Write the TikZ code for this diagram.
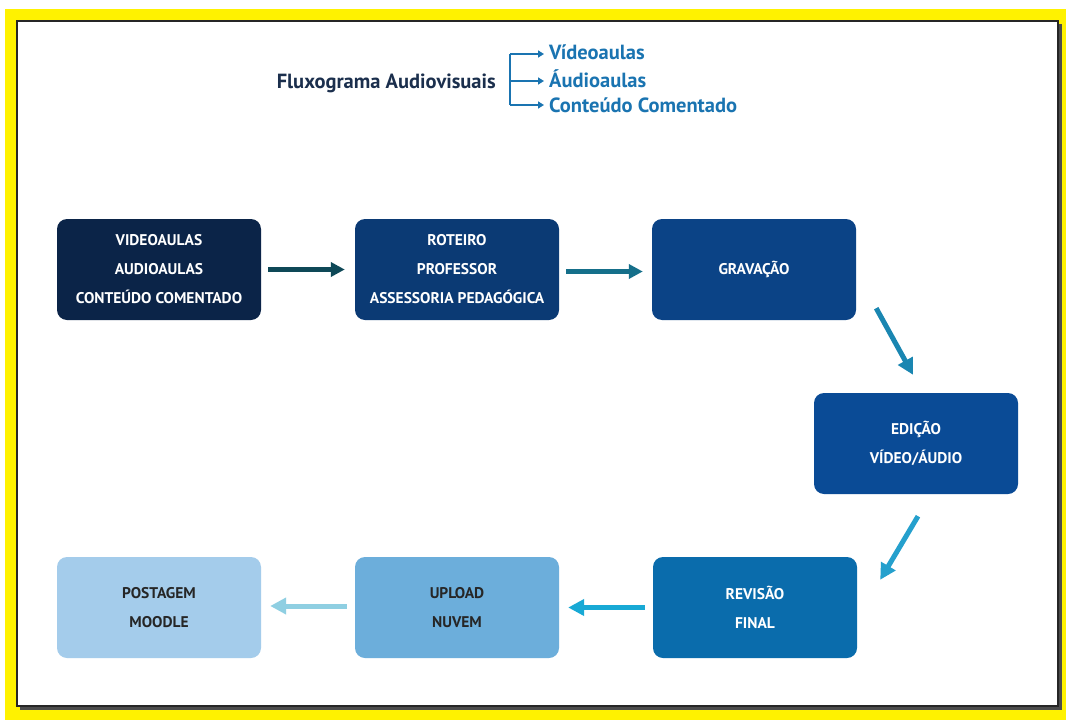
\documentclass[tikz,border=0pt]{standalone}
\usepackage{fontspec}
\setmainfont{PT Sans}
\usetikzlibrary{arrows.meta,calc}
\definecolor{cA}{HTML}{0B2448}
\definecolor{cB}{HTML}{0B3A74}
\definecolor{cC}{HTML}{0B4386}
\definecolor{cD}{HTML}{0A4B96}
\definecolor{cE}{HTML}{0A6CAC}
\definecolor{cF}{HTML}{6CAEDB}
\definecolor{cG}{HTML}{A4CCEB}
\definecolor{aA}{HTML}{0E4857}
\definecolor{aB}{HTML}{156F8A}
\definecolor{aC}{HTML}{1A86B1}
\definecolor{aD}{HTML}{25A0CD}
\definecolor{aE}{HTML}{18A9D5}
\definecolor{aF}{HTML}{8FCFE2}
\definecolor{headc}{HTML}{1B2F4D}
\definecolor{listc}{HTML}{1A74B1}
\tikzset{
  stepbox/.style={rounded corners=10pt, minimum width=204pt, minimum height=101pt,
    text=white, align=center, inner sep=0pt,
    font=\bfseries\fontsize{15.5}{29}\selectfont},
  flow/.style={line width=5pt, -{Triangle[length=14pt,width=14pt]}},
  bigflow/.style={line width=5pt, -{Triangle[length=16pt,width=16pt]}},
  listarrow/.style={line width=2.6pt, listc, -{Triangle[length=6pt,width=7pt]}},
}
\begin{document}
\begin{tikzpicture}[x=1pt,y=-1pt]
\useasboundingbox (0,0) rectangle (1066,720);
\fill[white] (0,0) rectangle (1066,720);
\fill[yellow] (5,9) rectangle (1066,720);
\fill[black!70] (20,24) rectangle (1062,710);
\filldraw[fill=white, draw=black!85, line width=1.2pt] (17,21) rectangle (1058,706);

% header
\node[anchor=east, text=headc, font=\bfseries\fontsize{20.5}{22}\selectfont, inner sep=0pt] (title) at (496,83) {Fluxograma Audiovisuais};
\node[anchor=west, text=listc, font=\bfseries\fontsize{20.5}{22}\selectfont, inner sep=0pt] (l1) at (549,52) {Vídeoaulas};
\node[anchor=west, text=listc, font=\bfseries\fontsize{20.5}{22}\selectfont, inner sep=0pt] (l2) at (549,79) {Áudioaulas};
\node[anchor=west, text=listc, font=\bfseries\fontsize{20.5}{22}\selectfont, inner sep=0pt] (l3) at (549,105) {Conteúdo Comentado};
\coordinate (bt) at (510,54);
\coordinate (bb) at (510,105);
\coordinate (bm) at (510,81);
\draw[line width=2.6pt, listc] (bt) -- (bb);
\draw[listarrow] (bt) -- ([xshift=-5pt]l1.west |- bt);
\draw[listarrow] (bm) -- ([xshift=-5pt]l2.west |- bm);
\draw[listarrow] (bb) -- ([xshift=-5pt]l3.west |- bb);

% boxes
\node[stepbox, fill=cA] (b1) at (159,269.5) {VIDEOAULAS\\AUDIOAULAS\\CONTEÚDO COMENTADO};
\node[stepbox, fill=cB] (b2) at (457,269.5) {ROTEIRO\\PROFESSOR\\ASSESSORIA PEDAGÓGICA};
\node[stepbox, fill=cC] (b3) at (754,269.5) {GRAVAÇÃO};
\node[stepbox, fill=cD] (b4) at (916,443.5) {EDIÇÃO\\VÍDEO/ÁUDIO};
\node[stepbox, fill=cE] (b5) at (755,607.5) {REVISÃO\\FINAL};
\node[stepbox, fill=cF, text=black!85] (b6) at (457,607.5) {UPLOAD\\NUVEM};
\node[stepbox, fill=cG, text=black!85] (b7) at (159,607.5) {POSTAGEM\\MOODLE};

% connectors
\draw[flow, aA, shorten <=7pt, shorten >=10pt] (b1.east) -- (b2.west);
\draw[flow, aB, shorten <=7pt, shorten >=9pt] ([yshift=-2pt]b2.east) -- ([yshift=-2pt]b3.west);
\draw[bigflow, aC] ($(b3.south east)+(20,-12)$) -- ($(b4.north)+(-3,-18)$);
\draw[bigflow, aD] ($(b4.south)+(2,22)$) -- ($(b5.north east)+(23,23)$);
\draw[bigflow, aE, shorten <=8pt, shorten >=9pt] (b5.west) -- (b6.east);
\draw[bigflow, aF, shorten <=8pt, shorten >=9pt] ([yshift=1.5pt]b6.west) -- ([yshift=1.5pt]b7.east);
\end{tikzpicture}
\end{document}
